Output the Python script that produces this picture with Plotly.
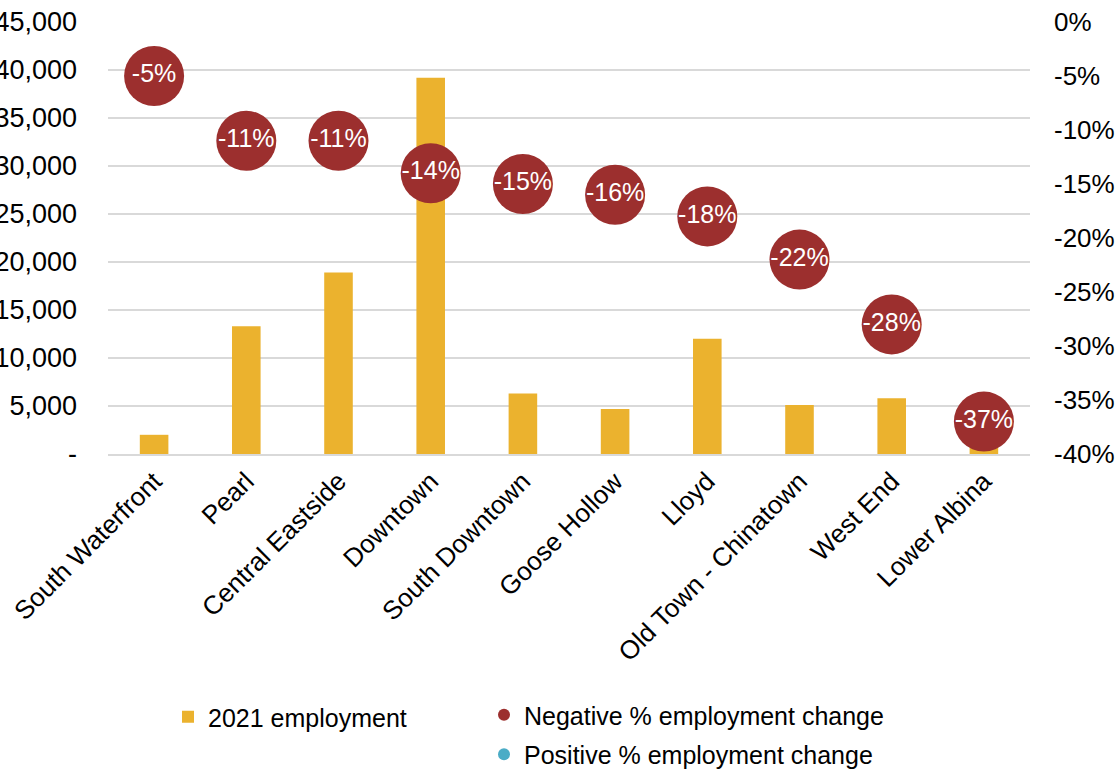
import plotly.graph_objects as go

districts = ["South Waterfront", "Pearl", "Central Eastside", "Downtown", "South Downtown",
             "Goose Hollow", "Lloyd", "Old Town - Chinatown", "West End", "Lower Albina"]
employment_2021 = [2000, 13300, 18900, 39200, 6300, 4700, 12000, 5100, 5800, 1600]
pct_change = [-5, -11, -11, -14, -15, -16, -18, -22, -28, -37]

emp_ticks = [0, 5000, 10000, 15000, 20000, 25000, 30000, 35000, 40000, 45000]
emp_tick_text = ["-", "5,000", "10,000", "15,000", "20,000", "25,000", "30,000", "35,000", "40,000", "45,000"]
pct_ticks = [0, -5, -10, -15, -20, -25, -30, -35, -40]

BAR = "#EBB22E"
NEG = "#9C2F2E"
POS = "#4BACC6"
GRID = "#D9D9D9"
FONT = "Liberation Sans, Arial, sans-serif"

neg_x = [d for d, p in zip(districts, pct_change) if p < 0]
neg_y = [p for p in pct_change if p < 0]
pos_x = [d for d, p in zip(districts, pct_change) if p >= 0]
pos_y = [p for p in pct_change if p >= 0]

fig = go.Figure()

fig.add_trace(go.Bar(
    x=districts, y=employment_2021, name="2021 employment",
    marker=dict(color=BAR, line=dict(width=0)),
    legend="legend", yaxis="y",
))

fig.add_trace(go.Scatter(
    x=neg_x, y=neg_y, name="Negative % employment change",
    mode="markers", marker=dict(color=NEG, size=60, line=dict(width=0)),
    yaxis="y2", legend="legend2", legendgroup="neg",
))
fig.add_trace(go.Scatter(
    x=pos_x if pos_x else [None], y=pos_y if pos_y else [None],
    name="Positive % employment change",
    mode="markers", marker=dict(color=POS, size=60, line=dict(width=0)),
    yaxis="y2", legend="legend2", legendgroup="pos",
))
# percentage labels inside the bubbles
fig.add_trace(go.Scatter(
    x=districts, y=pct_change, mode="text",
    text=[f"{p}%" for p in pct_change], textposition="middle center",
    textfont=dict(color="white", size=25, family=FONT),
    yaxis="y2", showlegend=False, hoverinfo="skip",
))

fig.update_layout(
    width=1120, height=772,
    margin=dict(l=108, r=90, t=22, b=318, autoexpand=False),
    paper_bgcolor="white", plot_bgcolor="white",
    font=dict(family=FONT, size=25, color="#000000"),
    bargap=0.69,
    showlegend=True,
    xaxis=dict(
        type="category", range=[-0.5, len(districts) - 0.5],
        tickangle=-45, automargin=False,
        showgrid=False, showline=True, linecolor=GRID, linewidth=1.5,
        ticks="", tickfont=dict(size=26),
    ),
    yaxis=dict(
        range=[0, 45000], tickvals=emp_ticks, ticktext=emp_tick_text,
        showgrid=True, gridcolor=GRID, gridwidth=1.5,
        zeroline=False, showline=False, ticks="", automargin=False,
        ticklabelstandoff=30, tickfont=dict(size=27),
    ),
    yaxis2=dict(
        range=[-40, 0], overlaying="y", side="right",
        tickvals=pct_ticks, ticktext=[f"{t}%" for t in pct_ticks],
        showgrid=False, zeroline=False, showline=False, ticks="", automargin=False,
        ticklabelstandoff=23, tickfont=dict(size=26),
    ),
    legend=dict(
        x=(168 - 108) / 922, y=(454 - 694) / 432, xanchor="left", yanchor="top",
        orientation="v", bgcolor="rgba(0,0,0,0)", font=dict(size=25),
    ),
    legend2=dict(
        x=(484 - 108) / 922, y=(454 - 692) / 432, xanchor="left", yanchor="top",
        orientation="v", bgcolor="rgba(0,0,0,0)", font=dict(size=25),
        traceorder="grouped", tracegroupgap=4, itemsizing="constant",
    ),
)

fig.write_html("out.html")
